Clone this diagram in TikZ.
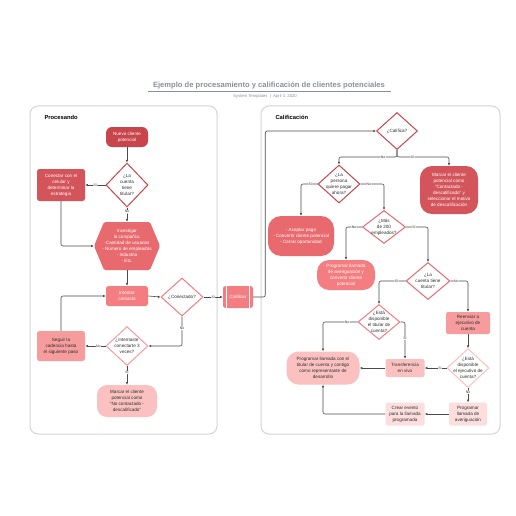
\documentclass[tikz,border=0pt]{standalone}
\usepackage{fontspec}
\setmainfont{Liberation Sans}
\usetikzlibrary{shapes.geometric,arrows.meta}

\definecolor{darkred}{HTML}{C8454C}
\definecolor{midred}{HTML}{D3555B}
\definecolor{salmon}{HTML}{E86A6F}
\definecolor{pinkred}{HTML}{F47D81}
\definecolor{rose}{HTML}{F69C9D}
\definecolor{lightrose}{HTML}{FBC1C1}
\definecolor{palerose}{HTML}{FDDEDE}
\definecolor{wire}{HTML}{4B4B4B}
\definecolor{ink}{HTML}{2E2E2E}
\definecolor{panelgray}{HTML}{D4D4D4}
\definecolor{titlegray}{HTML}{8B9099}

\tikzset{
	txt/.style={align=center, font=\fontsize{4.6}{6}\selectfont},
	box/.style={txt, rectangle, rounded corners=2.5pt, fill=#1, inner sep=0.5pt},
	pill/.style={txt, rectangle, rounded corners=10pt, fill=#1, inner sep=0.5pt},
	decide/.style={txt, diamond, draw=#1, fill=white, line width=1pt, inner sep=-3pt, text=ink},
	hexa/.style={txt, rectangle, inner sep=1pt, text=white, path picture={
		\fill[#1, rounded corners=1.5pt] (path picture bounding box.west) -- ([xshift=10pt]path picture bounding box.north west) -- ([xshift=-10pt]path picture bounding box.north east) -- (path picture bounding box.east) -- ([xshift=-10pt]path picture bounding box.south east) -- ([xshift=10pt]path picture bounding box.south west) -- cycle;}},
	subproc/.style={box=#1, text=white, path picture={
		\draw[white, line width=0.7pt] ([xshift=3.5pt]path picture bounding box.north west) -- ([xshift=3.5pt]path picture bounding box.south west);
		\draw[white, line width=0.7pt] ([xshift=-3.5pt]path picture bounding box.north east) -- ([xshift=-3.5pt]path picture bounding box.south east);}},
	link/.style={draw=wire, line width=0.6pt, -{Latex[length=2.6pt,width=2.4pt]}, rounded corners=2pt},
	yn/.style={fill=white, inner sep=0.5pt, text=ink, font=\fontsize{3.5}{3.5}\selectfont},
	panel/.style={draw=panelgray, line width=1pt, rounded corners=8pt},
	heading/.style={anchor=west, font=\bfseries\fontsize{5.8}{6}\selectfont, text=black},
}

\begin{document}
\begin{tikzpicture}[x=1pt, y=-1pt]
		%%%%% START %%%%%
		
		\fill[white] (0,0) rectangle (516,516);
		
		\node[font=\bfseries\fontsize{7.6}{8}\selectfont, text=titlegray] (title) at (269,86) {Ejemplo de procesamiento y calificación de clientes potenciales};
		\draw[titlegray, line width=0.6pt] (148,91.5) -- (391,91.5);
		\node[font=\fontsize{4.2}{5}\selectfont, text=titlegray] (subtitle) at (265,96.5) {System Templates \;|\; April 3, 2020};
		
		\draw[panel] (30,106) rectangle (217,434);
		\draw[panel] (261,106) rectangle (500,434);
		\node[heading] (procesando) at (41,117) {Procesando};
		\node[heading] (calificacion) at (272,117) {Calificación};
		
		% procesando
		\node[pill=darkred, text=white, rounded corners=6pt, minimum width=42pt, minimum height=20pt] (nuevo) at (127,137) {Nuevo cliente\\potencial};
		\node[decide=darkred, minimum width=42pt, minimum height=44pt] (tit1) at (127,185) {¿La\\cuenta\\tiene\\titular?};
		\node[box=midred, text=white, minimum width=48pt, minimum height=32pt] (conectar) at (61,185) {Conectar con el\\celular y\\determinar la\\estrategia};
		\node[hexa=salmon, minimum width=66pt, minimum height=48pt] (invest) at (127,246) {Investigar\\la compañía:\\-Cantidad de usuarios\\- Número de empleados\\- Industria\\- Etc.};
		\node[box=pinkred, text=white, minimum width=42pt, minimum height=20pt] (intentar) at (127,296) {Intentar\\contacto};
		\node[decide=pinkred, minimum width=42pt, minimum height=38pt] (conect) at (182,297) {¿Conectado?};
		\node[subproc=pinkred, minimum width=30pt, minimum height=22pt] (calif) at (238,297) {Calificar};
		\node[decide=rose, minimum width=42pt, minimum height=39pt] (tres) at (127,346) {¿Intentaste\\conectarte 3\\veces?};
		\node[box=rose, text=ink, minimum width=48pt, minimum height=30pt] (seguir) at (61,346) {Seguir la\\cadencia hasta\\el siguiente paso};
		\node[pill=lightrose, text=ink, minimum width=60pt, minimum height=32pt] (marcar1) at (127,401) {Marcar el cliente\\potencial como\\"No contactado -\\descalificado"};
		
		\draw[link] (nuevo) -- (tit1);
		\draw[link] (tit1.west) -- node[yn] {Sí} (conectar.east);
		\draw[link] (tit1.south) -- node[yn, pos=0.3] {No} (invest.north);
		\draw[link] (conectar.south) |- (invest.west);
		\draw[link] (invest.south) -- (intentar.north);
		\draw[link] (intentar.east) -- (conect.west);
		\draw[link] (conect.east) -- node[yn] {Sí} (calif.west);
		\draw[link] (conect.south) |- node[yn, pos=0.2] {No} (tres.east);
		\draw[link] (tres.west) -- node[yn, pos=0.35] {No} (seguir.east);
		\draw[link] (seguir.north) |- (intentar.west);
		\draw[link] (tres.south) -- node[yn, pos=0.35] {Sí} (marcar1.north);
		
		% calificacion
		\node[decide=darkred, minimum width=41pt, minimum height=37pt] (califica) at (397,131) {¿Califica?};
		\node[decide=darkred, minimum width=42pt, minimum height=38pt] (pagar) at (339,184) {¿La\\persona\\quiere pagar\\ahora?};
		\node[pill=midred, text=white, rounded corners=12pt, minimum width=58pt, minimum height=48pt] (marcar2) at (449,190) {Marcar el cliente\\potencial como\\"Contactado -\\descalificado" y\\seleccionar el motivo\\de descalificación};
		\node[pill=salmon, text=white, rounded corners=13pt, minimum width=66pt, minimum height=40pt] (aceptar) at (301,236) {- Aceptar pago\\- Convertir cliente potencial\\- Cerrar oportunidad};
		\node[decide=salmon, minimum width=43pt, minimum height=33pt] (empl) at (384,227) {¿Más\\de 200\\empleados?};
		\node[pill=pinkred, text=white, rounded corners=12pt, minimum width=58pt, minimum height=30pt] (avg) at (346,275) {Programar llamada\\de averiguación y\\convertir cliente\\potencial};
		\node[decide=salmon, minimum width=44pt, minimum height=37pt] (tit2) at (428,281) {¿La\\cuenta tiene\\titular?};
		\node[decide=pinkred, minimum width=42pt, minimum height=35pt] (disp1) at (379,322) {¿Está\\disponible\\el titular de\\cuenta?};
		\node[box=rose, text=ink, rounded corners=2pt, minimum width=44pt, minimum height=22pt] (reenv) at (468,323) {Reenviar a\\ejecutivo de\\cuenta};
		\node[decide=lightrose, minimum width=42pt, minimum height=36pt] (disp2) at (468,368) {¿Está\\disponible\\el ejecutivo de\\cuenta?};
		\node[box=lightrose, text=ink, rounded corners=2pt, minimum width=39pt, minimum height=18pt] (transf) at (405,368) {Transferencia\\en vivo};
		\node[pill=lightrose, text=ink, rounded corners=12pt, minimum width=73pt, minimum height=33pt] (progtit) at (323,368) {Programar llamada con el\\titular de cuenta y contigo\\como representante de\\desarrollo};
		\node[box=palerose, text=ink, rounded corners=2pt, minimum width=38pt, minimum height=23pt] (progav) at (468,414) {Programar\\llamada de\\averiguación};
		\node[box=palerose, text=ink, rounded corners=2pt, minimum width=39pt, minimum height=23pt] (evento) at (405,414) {Crear evento\\para la llamada\\programada};
		
		\draw[link] (calif.east) -- ++(12,0) |- (califica.west);
		\draw[link] (califica.south) -- ++(0,7) -| node[yn, pos=0.12] {No} (pagar.north);
		\draw[link] (califica.south) -- ++(0,7) -| node[yn, pos=0.15] {Sí} (marcar2.north);
		\draw[link] (pagar.west) -| node[yn, pos=0.22] {Sí} (aceptar.north);
		\draw[link] (pagar.east) -| node[yn, pos=0.18] {No} (empl.north);
		\draw[link] (empl.west) -| node[yn, pos=0.25] {No} (avg.north);
		\draw[link] (empl.east) -| node[yn, pos=0.18] {Sí} (tit2.north);
		\draw[link] (tit2.west) -| node[yn, pos=0.17] {Sí} (disp1.north);
		\draw[link] (tit2.east) -| node[yn, pos=0.17] {No} (reenv.north);
		\draw[link] (disp1.west) -| node[yn, pos=0.15] {No} (progtit.north);
		\draw[link] (disp1.east) -| node[yn, pos=0.72] {Sí} (transf.north);
		\draw[link] (reenv.south) -- (disp2.north);
		\draw[link] (disp2.west) -- node[yn, pos=0.3] {Sí} (transf.east);
		\draw[link] (disp2.south) -- node[yn, pos=0.3] {No} (progav.north);
		\draw[link] (progav.west) -- (evento.east);
		\draw[link] (evento.west) -| (progtit.south);
		\draw[link] (transf.west) -- (progtit.east);
		
		%%%%% END %%%%%
	\end{tikzpicture}
\end{document}
